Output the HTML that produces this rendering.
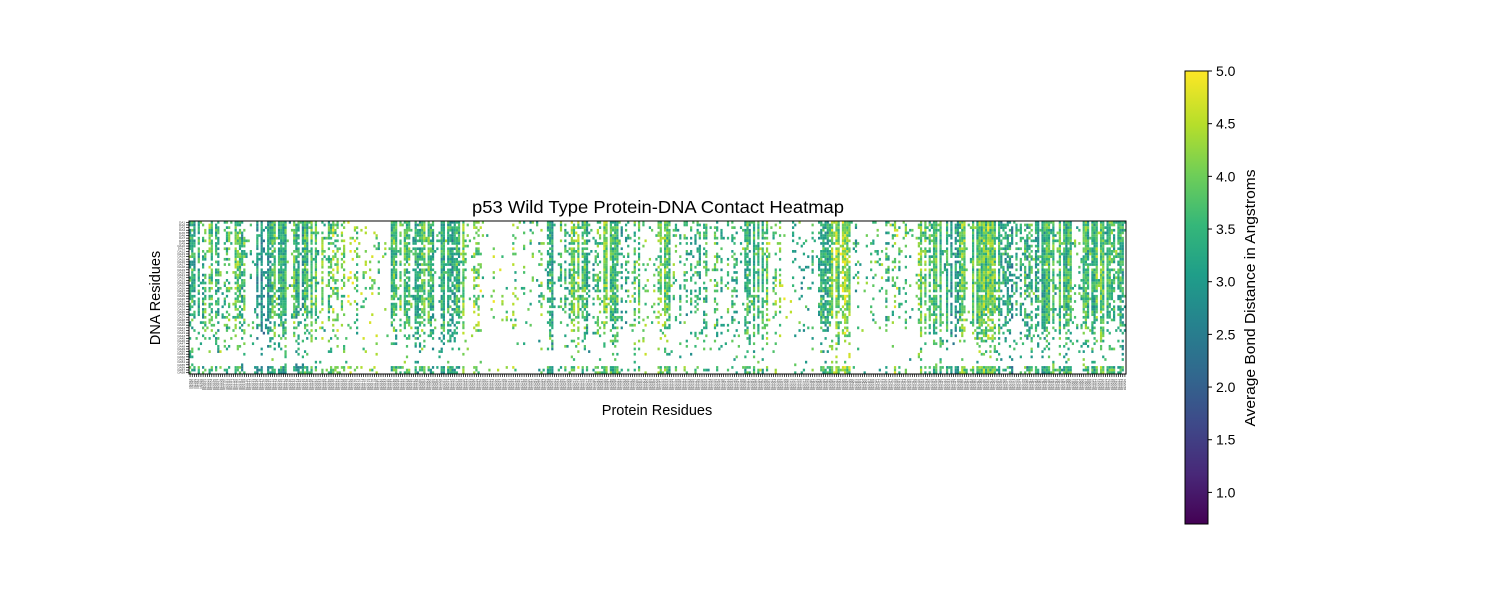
<!DOCTYPE html>
<html><head><meta charset="utf-8"><style>
html,body{margin:0;padding:0;background:#fff;}
svg{display:block;font-family:"Liberation Sans","DejaVu Sans",sans-serif;}
</style></head><body>
<svg id="chart" width="1512" height="589" viewBox="0 0 1512 589" xmlns="http://www.w3.org/2000/svg">
<defs>
<linearGradient id="vir" x1="0" y1="1" x2="0" y2="0">
<stop offset="0" stop-color="#440154"/><stop offset="0.11" stop-color="#482878"/><stop offset="0.22" stop-color="#3e4989"/><stop offset="0.33" stop-color="#31688e"/><stop offset="0.44" stop-color="#26828e"/><stop offset="0.55" stop-color="#1f9e89"/><stop offset="0.66" stop-color="#35b779"/><stop offset="0.77" stop-color="#6ece58"/><stop offset="0.88" stop-color="#b5de2b"/><stop offset="1" stop-color="#fde725"/>
</linearGradient>
</defs>
<text x="658" y="213" font-size="17.5" text-anchor="middle" textLength="372" lengthAdjust="spacingAndGlyphs">p53 Wild Type Protein-DNA Contact Heatmap</text>
<g id="cells"></g>
<rect x="189" y="221" width="937" height="153" fill="none" stroke="#000" stroke-width="1"/>
<g id="xticks"></g>
<g id="yticks"></g>
<text x="657" y="415" font-size="14.5" text-anchor="middle">Protein Residues</text>
<text transform="translate(160,298) rotate(-90)" font-size="14.5" text-anchor="middle">DNA Residues</text>
<rect x="1185" y="71" width="23" height="453" fill="url(#vir)" stroke="#000" stroke-width="1"/>
<g id="cbticks"></g>
<text transform="translate(1255,298) rotate(-90)" font-size="14.5" text-anchor="middle" textLength="257" lengthAdjust="spacingAndGlyphs">Average Bond Distance in Angstroms</text>
</svg>
<script>
// Column-block contact density (0-9), one digit per ~10px block of protein residues
const densityBlocks = "5453556868667533211165666767311121136366366241462233333576211126761113333677667884445898767756567";
// Mean bond distance per block
const meanBlocks = [3.6,3.7,3.5,3.8,3.6,3.5,3.4,3.1,3.6,3.4,3.5,3.5,3.4,3.7,4.0,4.0,4.0,4.1,4.0,3.9,3.8,3.7,3.6,3.6,3.4,3.6,3.3,3.9,4.1,4.1,4.0,4.0,4.0,3.8,3.6,3.8,3.6,3.5,3.8,3.5,3.5,4.0,3.7,3.5,3.8,4.0,3.9,3.7,3.6,3.6,3.6,3.6,3.6,3.5,3.4,3.5,3.9,4.0,4.0,4.0,3.9,3.4,3.3,3.4,4.0,4.0,3.6,3.6,3.6,3.6,3.9,3.8,3.7,3.6,3.5,3.4,3.2,3.9,3.9,3.9,3.8,3.3,3.2,3.4,3.6,3.6,3.6,3.7,3.7,3.7,3.6,3.7,3.6,3.6];
// DNA row contact weights (top to bottom)
const rowWeights = [0.95,0.9,0.9,0.9,0.85,0.9,0.9,0.85,0.9,0.5,0.9,0.9,0.85,0.9,0.85,0.9,0.9,0.5,0.85,0.9,0.9,0.9,0.85,0.9,0.85,0.9,0.9,0.5,0.85,0.85,0.8,0.75,0.7,0.7,0.7,0.65,0.6,0.5,0.5,0.45,0.5,0.4,0.35,0.3,0.3,0.25,0.25,0.2,0.2,0.15,0.12,0.1,0.08,0.05,0.05,0.8,0.85,0.8];
const nCols = 432;
const nRows = rowWeights.length;
const colLabels = Array.from({length:nCols},(_,i)=>"RES"+(94+i));
const rowLabels = Array.from({length:nRows},(_,i)=>"DA"+(i+1));
const cbTicks = [1.0,1.5,2.0,2.5,3.0,3.5,4.0,4.5,5.0];
const vmin = 0.7, vmax = 5.0;

const X0=189,W=937,Y0=221,H=153;
const cw=W/nCols, rh=H/nRows;
const xScale=c=>X0+c*cw, yScale=r=>Y0+r*rh;
const cbY=v=>71+(vmax-v)/(vmax-vmin)*453;
const vir=["#440154","#482878","#3e4989","#31688e","#26828e","#1f9e89","#35b779","#6ece58","#b5de2b","#fde725"];
function hx(h){return [parseInt(h.slice(1,3),16),parseInt(h.slice(3,5),16),parseInt(h.slice(5,7),16)];}
function cmap(v){let t=Math.max(0,Math.min(1,(v-vmin)/(vmax-vmin)))*9;let i=Math.min(8,Math.floor(t)),f=t-i;const a=hx(vir[i]),b=hx(vir[i+1]);return "rgb("+a.map((x,k)=>Math.round(x+(b[k]-x)*f)).join(",")+")";}
function hash(a,b){let h=(a*374761393+b*668265263)^0x5bd1e995;h=(h^(h>>>13))*1274126177;h=h^(h>>>16);return ((h>>>0)%10000)/10000;}
const NS="http://www.w3.org/2000/svg";
const cells=document.getElementById('cells');
for(let c=0;c<nCols;c++){
  const blk=Math.min(densityBlocks.length-1,Math.floor((xScale(c)-X0)/10));
  const d=+densityBlocks[blk]/9, m=meanBlocks[Math.min(meanBlocks.length-1,blk)];
  const hc=hash(c,999);
  const colF=hc<0.4?0.2:1.25+hc*0.4;
  const colShift=(hash(c,555)-0.5)*0.9;
  for(let r=0;r<nRows;r++){
    const p=d*rowWeights[r]*colF;
    if(hash(c,r)<p){
      const v=m+colShift+(hash(r,c+77)-0.5)*1.4;
      const el=document.createElementNS(NS,'rect');
      
      
      el.setAttribute('x',xScale(c).toFixed(2));el.setAttribute('y',yScale(r).toFixed(2));
      el.setAttribute('width',(cw+0.05).toFixed(2));el.setAttribute('height',(rh+0.05).toFixed(2));
      el.setAttribute('fill',cmap(v));
      cells.appendChild(el);
    }
  }
}
const xt=document.getElementById('xticks');
for(let c=0;c<nCols;c++){
  const x=xScale(c+0.5);
  const t=document.createElementNS(NS,'line');
  
  
  t.setAttribute('x1',x);t.setAttribute('x2',x);t.setAttribute('y1',374);t.setAttribute('y2',377);t.setAttribute('stroke','#000');t.setAttribute('stroke-width','0.7');
  xt.appendChild(t);
  const l=document.createElementNS(NS,'text');
  
  
  l.setAttribute('transform','translate('+(x+0.9)+',379) rotate(-90)');l.setAttribute('font-size','3');l.setAttribute('text-anchor','end');l.setAttribute('fill','#333');
  l.textContent=colLabels[c];xt.appendChild(l);
}
const yt=document.getElementById('yticks');
for(let r=0;r<nRows;r++){
  const y=yScale(r+0.5);
  const t=document.createElementNS(NS,'line');
  
  
  t.setAttribute('x1',186);t.setAttribute('x2',189);t.setAttribute('y1',y);t.setAttribute('y2',y);t.setAttribute('stroke','#000');t.setAttribute('stroke-width','0.7');
  yt.appendChild(t);
  const l=document.createElementNS(NS,'text');
  
  
  l.setAttribute('x',185);l.setAttribute('y',y+1);l.setAttribute('font-size','3');l.setAttribute('text-anchor','end');l.setAttribute('fill','#333');
  l.textContent=rowLabels[r];yt.appendChild(l);
}
const cb=document.getElementById('cbticks');
cbTicks.forEach(v=>{
  const y=cbY(v);
  const t=document.createElementNS(NS,'line');
  
  
  t.setAttribute('x1',1208);t.setAttribute('x2',1212);t.setAttribute('y1',y);t.setAttribute('y2',y);t.setAttribute('stroke','#000');
  cb.appendChild(t);
  const l=document.createElementNS(NS,'text');
  
  
  l.setAttribute('x',1216);l.setAttribute('y',y+5);l.setAttribute('font-size','14');
  l.textContent=v.toFixed(1);cb.appendChild(l);
});
</script>
</body></html>
